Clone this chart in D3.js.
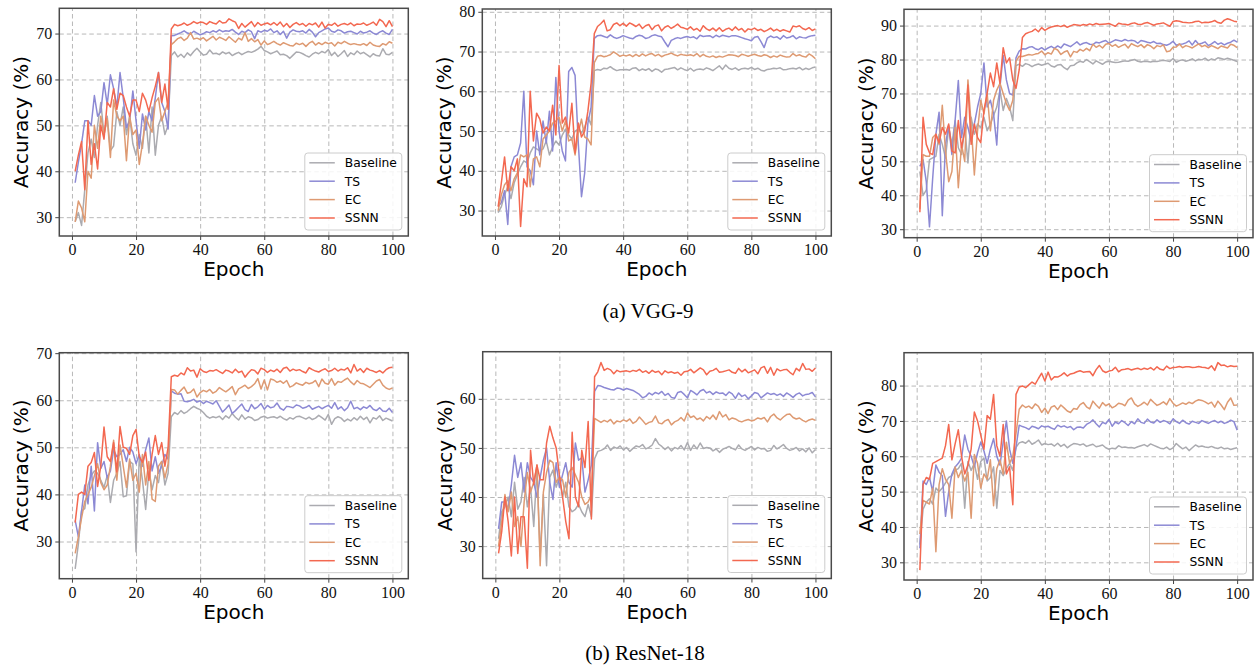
<!DOCTYPE html>
<html>
<head>
<meta charset="utf-8">
<script src="https://cdn.jsdelivr.net/npm/d3@7"></script>
<style>
body { margin: 0; background: #fff; }
</style>
</head>
<body>
<script>
var epochs = d3.range(1, 101);
var xTicks = [0, 20, 40, 60, 80, 100];
var seriesNames = ['Baseline', 'TS', 'EC', 'SSNN'];
var seriesColors = ['#ababb0', '#8c89d4', '#de9a72', '#f36850'];
var captions = ['(a) VGG-9', '(b) ResNet-18'];

// VGG-9 row
var vgg1Baseline = [29, 31, 28.2, 36, 44, 47, 43, 50, 55, 48, 52, 44.5, 45.5, 53, 50, 54, 48, 52, 46, 43.5, 48, 45, 52, 44, 54, 43.5, 50, 52, 48, 50,
	65.2, 66, 64.9, 65.5, 64.8, 65.8, 65.2, 66.1, 66.8, 66, 65.3, 65.5, 66.4, 65.6, 65.7, 65.4, 66, 65.6, 65.9, 65.2,
	65.6, 65.9, 65.4, 65.8, 66.1, 65.9, 66.2, 66.6, 67.2, 66.3, 66, 65.6, 65.9, 66.2, 65.4, 65.5, 65.2, 64.6, 65.3, 66,
	65.9, 65.6, 65.2, 64.9, 65.5, 65.9, 65.6, 66.1, 65.8, 66.5, 65.2, 65.9, 65, 65.6, 66.3, 65, 65.8, 65.4, 66.2, 65.6,
	65.9, 65.4, 64.9, 65.6, 65.2, 65.1, 66.7, 65.5, 65.4, 65.9];
var vgg1TS = [37.5, 42, 46, 51, 51, 50, 56.5, 52, 53, 59.3, 54.5, 61, 58, 54, 61.5, 56, 49.5, 51, 57.5, 51, 45, 52.5, 49, 53, 51, 56, 61.5, 55, 53, 49.2,
	69.5, 69.6, 69.9, 70.2, 70.6, 70.1, 69.9, 70.5, 70.1, 69.7, 70, 70.4, 70.2, 70.6, 70.3, 70.8, 70.4, 70.6, 70.5, 70.9,
	70.3, 69.8, 70.5, 70.2, 70.8, 70.4, 68.9, 70.6, 70.3, 70.7, 70.5, 71, 70.2, 70.6, 69.8, 70.5, 69, 70.3, 70.8, 70.5,
	70.4, 70.6, 70.1, 70.9, 70.3, 69.3, 70.2, 70.6, 71, 71.2, 70.5, 70.3, 70.8, 70.6, 70.1, 70.4, 70.5, 70.2, 69.9, 70.5,
	70.1, 70.3, 70.6, 70.1, 69.8, 70.3, 70.6, 70.1, 69.8, 70.9];
var vgg1EC = [29, 33.5, 32, 29, 40, 38.5, 50, 45, 52, 48, 51.5, 43, 55.5, 52, 51, 52, 42.3, 52, 48, 49, 41.5, 46, 52, 50, 48.5, 55, 56, 51, 53, 55,
	67.6, 68.2, 68.9, 69.2, 68.5, 69, 70.2, 68.8, 69, 68.7, 69.1, 68.4, 68.9, 69.4, 68.6, 69.2, 68.9, 68.5, 69.3, 68.7,
	68.1, 69, 68.6, 70.2, 68.3, 68.9, 68.2, 68.7, 67.5, 68.4, 67.6, 67.9, 68.3, 67.8, 67.5, 68, 67.7, 67.4, 67.3, 67.9,
	67.6, 67.9, 67.2, 67.9, 68.3, 67.5, 68, 67.6, 68.1, 67.8, 68, 67.3, 68.1, 67.8, 68.3, 67.9, 67.6, 67.8, 67.6, 67.5,
	67.8, 67.4, 68.1, 67.5, 67.3, 67.2, 67.8, 67.5, 68.2, 67.9];
var vgg1SSNN = [40, 43.5, 46.5, 36, 51, 41.5, 46, 40.5, 50, 47, 55, 54, 58, 53.5, 57, 56.5, 54, 52, 55.5, 55.5, 53, 57, 55.5, 53, 56, 58.5, 61.5, 55, 59, 53.5,
	71, 72, 71.7, 71.9, 72.3, 71.8, 72.1, 72.6, 72.2, 72.5, 72.4, 72, 72.6, 72.3, 72.1, 72.8, 72.3, 72.4, 73.2, 72.8,
	72.5, 71.1, 72.2, 71.4, 72, 72.6, 71.5, 72.4, 71.8, 72.1, 72.3, 71.9, 72.4, 71.8, 72.5, 71.5, 72.2, 71.3, 72, 72.4,
	71.9, 72.2, 71.6, 72.2, 71.9, 72.3, 71.4, 72.5, 71.2, 72, 71.8, 72.3, 71.6, 72, 72.2, 71.9, 72.3, 71.7, 72.1, 72,
	72.3, 71.8, 72.1, 72.5, 71.8, 73.1, 72.6, 71.5, 72.8, 71.5];

var vgg2Baseline = [29.5, 31, 34, 36, 33, 37, 39, 41, 42.5, 42, 44.5, 46, 45.5, 45, 45.5, 47.5, 44, 46, 47.5, 46.5, 49, 50.5, 49, 48, 50, 50.5, 49.5, 51, 53.5, 51.5,
	65.2, 65.5, 65.3, 65.8, 65.7, 66.2, 65.6, 65.2, 65.4, 65.4, 65.5, 65.3, 65.8, 65.9, 65.2, 65.6, 65.3, 65.7, 65, 65.6,
	65.4, 64.8, 65.5, 65.6, 65.8, 66, 65.4, 65.9, 65.5, 65.2, 65.8, 65.1, 65.5, 65.6, 65.4, 65.9, 65.6, 65.2, 65.8, 66.4,
	65.5, 66.6, 65.8, 65.5, 65.9, 65.3, 65.7, 65.8, 65.6, 66, 65.5, 65.8, 65.3, 65.1, 65.5, 65.6, 65.8, 65.7, 65.9, 65.4,
	65.5, 65.7, 65.8, 65.6, 66, 65.4, 65.8, 65.5, 65.9, 66.1];
var vgg2TS = [31, 32, 35, 26.5, 41, 43.5, 44, 47, 60, 41, 40, 36.5, 50, 44, 52.5, 47, 55, 45, 63.5, 50, 45, 42.5, 65, 66, 64, 47, 33.5, 39.5, 52, 56,
	73.3, 74, 74.1, 73.8, 73.5, 74.2, 73.6, 73.3, 73.6, 74, 73.7, 73.4, 73.2, 73.8, 74.1, 73.9, 73.3, 73.5, 74, 74.2,
	73.9, 73.7, 72.4, 71.2, 72.8, 73.2, 73.5, 73.3, 73.6, 73.8, 73.5, 73.7, 73.2, 74.1, 73.8, 73.9, 74, 73.5, 74.1, 73.7,
	74.1, 73.9, 73.7, 74, 74, 73.8, 73.5, 73.2, 73, 72.7, 73.6, 73.8, 72.5, 71, 73.4, 73.9, 73.5, 73.7, 73.1, 74,
	73.4, 73.6, 74, 73.2, 73.7, 73.5, 73.4, 73.8, 74, 74.1];
var vgg2EC = [30, 34, 36.5, 37.5, 35, 38, 39.5, 44, 43.5, 44, 36, 43, 43.5, 41, 48, 49, 50, 52, 52.5, 53.5, 50, 52.5, 47.5, 48, 44, 49.5, 53, 48.5, 48, 46.5,
	67.2, 68.8, 69, 68.7, 68.9, 69.2, 69.9, 69.4, 68.8, 69.1, 68.9, 69.2, 68.7, 69.3, 68.8, 69.4, 68.9, 69.3, 69.5, 68.9,
	69.3, 68.7, 69.1, 69.3, 69.6, 69.2, 68.9, 69.3, 69.1, 69, 69.2, 68.9, 69.5, 68.7, 69.3, 68.8, 68.6, 68.9, 68.5, 68.8,
	68.6, 68.9, 69.2, 69.1, 69, 68.7, 69.3, 69.1, 68.8, 69.1, 69.3, 69, 68.8, 69.2, 69, 68.5, 68.9, 68.6, 69.1, 68.8,
	68.6, 68.7, 69.5, 68.9, 69.2, 68.8, 68.6, 69.4, 68.9, 68.2];
var vgg2SSNN = [31, 37, 43.5, 35, 41, 40, 43, 26, 38, 36, 60, 47.5, 54.5, 53, 49.5, 51, 50, 56.5, 49, 66.5, 52, 53.5, 49.5, 57, 44.5, 52, 48.5, 50, 55, 62,
	74.5, 76.3, 77, 77.9, 75.2, 75.5, 76.8, 77.2, 76.5, 77.1, 76.4, 77.2, 76.8, 76.3, 76.9, 75.8, 76.5, 76.8, 75.5, 76.4,
	76.7, 75.2, 76.1, 76.5, 75.8, 76.3, 76.9, 76.1, 75.9, 75.6, 76.2, 75.4, 75.8, 75.1, 76.5, 75.7, 75.3, 75.9, 75.2, 76,
	75.1, 75.6, 75.9, 75.3, 76.2, 75.4, 75.8, 74.9, 75.7, 75.5, 75.9, 75.3, 75.6, 75, 75.4, 75.9, 75.2, 75.6, 75.1, 75.5,
	75.2, 74.9, 76.4, 76.2, 76.5, 75.8, 75.5, 76, 75.3, 75.7];

var vgg3Baseline = [47, 40, 41.5, 50.5, 51, 51.5, 58, 55, 51, 60, 55, 62, 54, 52, 60, 49.5, 63, 58, 61, 60, 63, 59, 61, 63.5, 66, 71, 65, 68.5, 66, 62,
	78.2, 78.6, 78, 78.8, 78.5, 77.9, 78.4, 78.7, 78.3, 78.6, 78.9, 78.1, 77.8, 78.4, 78.5, 77.6, 77, 78.2, 78.3, 79,
	79.5, 79.2, 80, 79.4, 78.7, 79.6, 79.1, 78.6, 79.3, 79.5, 79.3, 79.1, 79.2, 79.4, 79.6, 79.5, 79.8, 80, 79.5, 79.3,
	79.5, 79.4, 79.3, 79.5, 79.4, 79.6, 79.8, 79.6, 79.4, 80.3, 79.2, 79.7, 79.9, 79.5, 79.8, 80.2, 79.6, 80.1, 79.9, 80.4,
	79.7, 80.2, 79.9, 80.5, 80.3, 80, 80.4, 80.1, 79.8, 79.4];
var vgg3TS = [48.5, 50.5, 44, 30.7, 45, 58, 64.5, 34, 55, 60.5, 52, 62, 73.8, 57, 63, 60, 56, 61, 66, 70, 79, 66, 68, 64, 54.8, 72, 81.2, 74, 70, 69.5,
	80.5, 82.5, 83.2, 83.1, 83.6, 83.8, 83.2, 82.9, 83.5, 82.8, 83.4, 83.9, 83.3, 84, 83.4, 84.6, 84.2, 83.8, 84.5, 85.2,
	84.3, 84.8, 85, 84.5, 84.4, 85.1, 84.9, 85.3, 85.6, 84.8, 85.3, 85.8, 85.6, 85.4, 85.9, 85.5, 85.7, 85.5, 84.8, 85.6,
	85.4, 85.1, 84.9, 85.3, 84.7, 84.8, 84.4, 84.2, 84.6, 85.4, 84.2, 84.5, 84.6, 84.9, 85.5, 84.3, 85.6, 84.5, 84.8, 85.2,
	84.1, 84.6, 85.3, 84.5, 84.9, 84.3, 84.8, 85.1, 85.7, 85.1];
var vgg3EC = [36, 52, 51.5, 51.5, 57, 58, 55, 66.5, 53, 44, 47, 60, 42.2, 55, 50, 74, 61, 46, 59, 68, 64, 70, 59, 68, 71, 73, 70, 67, 65, 68,
	79.5, 81, 80.9, 81.2, 81.5, 81.3, 81.6, 81.8, 82.5, 81.4, 82, 81.6, 83.3, 82.8, 81.5, 82.2, 82.6, 80.8, 82.4, 82.1,
	83, 82.5, 83.3, 82.6, 84.5, 83.6, 84.2, 83.4, 84.5, 84.7, 83.9, 84.4, 83.6, 84.1, 84.5, 83.4, 84.7, 84.2, 83.8, 84.4,
	83.5, 84.4, 84, 83.2, 84.1, 83.8, 84.3, 82.3, 82.5, 83.6, 83.7, 84.6, 83.5, 84.1, 83.8, 83.4, 84, 84.6, 83.8, 84.2,
	83.5, 84.1, 83.7, 83.2, 84, 83.7, 83.4, 84.5, 84.2, 83.5];
var vgg3SSNN = [35, 63, 55, 52.5, 52, 58, 55.5, 60, 58, 61, 53, 52.5, 62, 54, 59, 72.5, 55, 61, 57, 55.5, 65, 70, 76, 72, 79, 73, 83.5, 79, 80.5, 74,
	71.5, 77, 86.5, 87.6, 88, 88.3, 89, 88.2, 89.4, 88.6, 89.2, 89.6, 89.8, 90, 89.7, 90.1, 89.5, 89.9, 90.3, 90.2,
	90, 90.3, 90.1, 90.5, 90.2, 90.6, 90.3, 90.4, 90.5, 90.6, 90.2, 89.8, 90.7, 90.5, 90.4, 90.2, 90.6, 90.8, 90.4, 90.3,
	90.7, 90.9, 90.5, 90.1, 90.5, 90.6, 90.8, 90.3, 89.8, 91.2, 91.4, 91.3, 91, 90.9, 90.8, 90.9, 91.2, 91.3, 90.8, 91,
	90.9, 91.1, 91.5, 90.9, 90.7, 91.6, 92, 91.7, 91.3, 91.1];

// ResNet-18 row
var res1Baseline = [24.2, 29.5, 36.5, 37, 42, 44, 45, 44.5, 43, 41.5, 44, 38.3, 43, 44.5, 47, 39.5, 39.7, 47, 46.5, 27.8, 48, 43, 36.8, 45, 41, 44, 42.5, 47, 42, 44.5,
	56.5, 57.4, 57, 57.8, 57.2, 57.6, 58.2, 58.7, 58.3, 58, 57.4, 56.6, 56.2, 56.5, 56.3, 56.6, 55.9, 56.7, 56.2, 57.2,
	56.4, 55.8, 56.9, 56, 56.5, 56.3, 55.7, 55.9, 56.4, 56.6, 56.2, 56.4, 56.5, 56.2, 56.6, 56.1, 55.8, 56.3, 56, 56.5,
	56.6, 56.3, 56, 56.4, 55.9, 56.2, 56.8, 56.3, 55.8, 57, 54.9, 56.1, 56.5, 56.2, 55.5, 56, 55.6, 56.3, 55.8, 56.6,
	55.9, 56.4, 55.2, 56.3, 56, 56.7, 55.7, 56.2, 55.9, 55.6];
var res1TS = [34.5, 31, 36.5, 42, 38, 46, 36.5, 51, 45.5, 47, 43.5, 45, 49.5, 48, 48.5, 49.5, 47, 50, 49, 46.5, 48.5, 46, 49.5, 52, 45, 48, 44.5, 46, 48.5, 47.5,
	62, 61.5, 61.3, 61.4, 59.8, 59.7, 59.9, 60.2, 59.6, 59.9, 59.3, 59.8, 59.5, 59.2, 59.9, 58.7, 57.5, 58.2, 59, 57.2,
	57.8, 58.5, 59.2, 58, 57.6, 59.1, 58.2, 58.6, 59.3, 58.1, 58.9, 58.4, 58.6, 59.4, 58.3, 57.9, 58.7, 58.6, 58.4, 59,
	58.8, 58.3, 58.5, 58.9, 58.1, 58.4, 58.7, 58.2, 58.6, 58.9, 58.3, 59.5, 58.1, 58.6, 57.8, 58.4, 59.8, 58.2, 58.5, 58,
	58.6, 58.3, 58.9, 58.1, 57.8, 58.4, 57.7, 57.6, 58.3, 57.4];
var res1EC = [27.5, 31, 35, 38.5, 40, 41.5, 44, 46.5, 42.5, 41, 42, 46, 51.5, 43, 50.5, 46, 41.5, 47.5, 43, 44.5, 40.5, 48.5, 42, 47, 39, 38.5, 46, 47, 43.5, 46.5,
	62.3, 62.2, 61.3, 62.1, 62.8, 61.5, 61.7, 62.4, 60.7, 61.6, 62.1, 61.8, 62.3, 61.5, 61.9, 62.7, 62.2, 61.8, 62.3, 62.9,
	61.2, 62.4, 62.8, 63.2, 62.5, 62.9, 63.5, 64.6, 62.4, 64.3, 62.2, 64.5, 64.3, 63.8, 64.1, 63.6, 64.2, 62.8, 63.1, 63.7,
	63.4, 63.2, 63.8, 63.5, 63.7, 64.2, 62.9, 64.5, 63.6, 63.4, 64.6, 63.2, 64, 63.8, 64.3, 64.7, 63.9, 63.3, 64.2, 63.6,
	63.5, 63.1, 62.7, 63.4, 64.1, 64.4, 63.2, 62.6, 62.3, 62.6];
var res1SSNN = [34, 40, 40.5, 40, 46, 46.8, 48.9, 41.7, 46, 54.3, 48, 47, 51, 44.8, 54.4, 50, 49.8, 48.5, 52.5, 53.8, 48, 46.8, 49, 43, 48.5, 52.5, 48.5, 51, 46, 50,
	65, 65.3, 65.1, 65.8, 65.4, 66.9, 66.2, 66.4, 64.9, 66.7, 66.1, 65.9, 66.3, 66.2, 66.5, 66.1, 65.7, 66.4, 66.2, 65.8,
	66.6, 65.9, 66.2, 64.9, 65.8, 66.5, 66.3, 65.6, 66.8, 66.5, 65.9, 66.4, 66.1, 66.6, 65.9, 66.8, 67, 66.2, 66.6, 66.3,
	66.5, 66.1, 65.8, 66.9, 66.5, 66.2, 66, 66.4, 66.7, 66.1, 66.3, 66.8, 66.2, 66.6, 66.4, 66.9, 65.8, 67.6, 66.2, 66.7,
	65.9, 66.8, 66.4, 66.2, 65.9, 66.3, 65.8, 66.5, 66.9, 67];

var res2Baseline = [31.5, 37, 38, 40, 36, 43, 37.5, 39, 44, 38, 42, 34, 46, 28, 40.5, 26, 44, 45.5, 42, 44, 40, 43, 38, 37, 37.5, 38.5, 37, 36, 38.5, 36,
	47.8, 49.3, 49.5, 49.8, 50.6, 49.5, 50.2, 49.9, 50.4, 49.6, 50.1, 49.3, 49.9, 50.4, 50.2, 50.7, 49.8, 50.1, 50.6, 51.9,
	50.8, 50.3, 49.7, 50.2, 49.4, 50.1, 49.8, 50.5, 49.6, 51.1, 49.5, 50.6, 49.8, 51, 49.9, 50.1, 50, 49.4, 49.8, 49.1,
	49.7, 50, 50.3, 49.9, 49.6, 50.6, 49.8, 49.5, 49.9, 50.3, 49.6, 50.1, 49.8, 49.9, 49.3, 49.5, 50.5, 49.8, 50.2, 50.7,
	49.9, 49.5, 49.7, 50.1, 49.4, 49.8, 49.2, 50, 49, 49.7];
var res2TS = [33.5, 39, 39, 37.5, 42.5, 48.5, 44, 47, 41, 47, 44, 43, 40, 44, 47.5, 50, 43, 39.5, 47, 42, 44.5, 47, 43, 42, 51, 47.5, 48, 41, 43.5, 46.5,
	61.5, 62.7, 62.6, 62.3, 62.1, 61.9, 61.8, 62.2, 62.1, 61.8, 62.1, 61.9, 61.7, 61.3, 60.9, 60.2, 60.5, 61.2, 60.8, 61.3,
	61, 61.5, 60.7, 61.1, 60.3, 60.1, 61.3, 61.5, 60.9, 60.2, 61.7, 61.3, 60.8, 61.6, 61.9, 61.2, 61.5, 60.9, 61.4, 61.1,
	61.2, 60.7, 61.4, 61, 60.1, 61.2, 60.5, 60.8, 60, 60.6, 61.3, 61.1, 60.2, 60.7, 61.2, 60.9, 61.1, 60.7, 61, 60.5,
	61.2, 60.8, 60.3, 60.9, 61.2, 60.6, 60.9, 61, 61.3, 60.4];
var res2EC = [30, 35, 40.5, 37, 41, 34, 36, 30, 39, 45, 41, 43, 46.5, 26, 41, 45, 47.5, 47, 43, 44, 43.5, 40, 45, 46, 44.5, 43, 40, 38.5, 39, 40.5,
	56, 55.6, 55.2, 55.6, 55.3, 55.8, 54.9, 55.5, 55.3, 55.7, 55.4, 55.9, 55, 55.4, 56.3, 55.6, 54.8, 55.2, 55.4, 56.5,
	55.1, 54.9, 55.5, 55.8, 54.7, 55.3, 55.6, 56.2, 55.5, 57.1, 56.2, 56.5, 55.8, 56.1, 55.5, 56.4, 55.9, 56.7, 55.8, 57.4,
	56.3, 56.8, 55.7, 56.1, 55.9, 55.5, 55.3, 55.6, 55.8, 55.5, 55.7, 56.1, 55.9, 56.2, 55.3, 56.4, 56.9, 56.1, 55.7, 56.3,
	56.8, 56.9, 56.2, 55.9, 56.1, 55.6, 55.3, 55.7, 55.9, 55.6];
var res2SSNN = [28.5, 33, 40, 35, 28, 40, 28.5, 36, 36, 25.5, 49.5, 42.5, 46.5, 43.5, 43.5, 51, 54.4, 52, 50, 44.5, 40, 35, 31.5, 53.2, 40, 38, 49.5, 46, 55.4, 35.5,
	64.5, 65.5, 67.4, 65.8, 66.2, 65.9, 65.1, 65.8, 65.5, 65.6, 65.7, 65.5, 65.8, 65.6, 66, 65.4, 65.7, 65.2, 65.8, 65.4,
	65.6, 64.9, 65.7, 65.3, 65.5, 65.2, 65.4, 64.8, 65.5, 65.6, 66, 65.3, 65.8, 66.3, 65.9, 64.9, 65.6, 65.8, 66.2, 65.4,
	65.5, 65.7, 65.9, 65.4, 65.2, 66.2, 65.5, 66, 65.3, 65.6, 65.9, 65.1, 66.3, 66.6, 65.2, 66.4, 64.8, 66.1, 65.7, 65.9,
	66, 65.4, 64.9, 66.2, 65.7, 67.2, 66, 66.1, 65.6, 66.3];

var res3Baseline = [35, 45, 47, 48, 46.5, 51, 50, 51, 52.5, 54, 54.5, 56, 56.5, 58, 45.3, 58.5, 56, 58, 53.5, 58.5, 59.5, 53, 54, 57, 45.3, 56, 54.5, 56.5, 58, 56,
	62.5, 63.8, 64.1, 63.7, 64.5, 63.4, 63.9, 64.6, 63.2, 63.6, 63.3, 63.5, 62.9, 63.7, 62.8, 63.4, 62.4, 63.1, 63.6, 63.5,
	63.2, 63.5, 62.8, 63.1, 63.4, 62.7, 62.9, 63.2, 62.4, 62, 62.3, 62.1, 63, 62.5, 62.6, 62.4, 62.5, 62.3, 62.7, 63,
	63.3, 62.8, 63.5, 63.1, 62.7, 62.3, 62.1, 62.6, 61.9, 62.4, 63.6, 62.8, 62.1, 62.6, 61.6, 62.4, 63.2, 62.7, 62.9, 62.6,
	62.5, 62.8, 62.4, 62.2, 62.6, 62.1, 62.3, 61.9, 62.2, 62.4];
var res3TS = [34, 53, 52, 54, 50, 57.5, 55.5, 54.5, 43, 50, 55, 57, 58, 59.5, 66, 62, 60, 57, 61, 64, 61.5, 58, 62, 65, 60, 57.5, 64, 70, 62, 58,
	62.5, 68.8, 68.4, 68.1, 67.6, 68.5, 68.2, 67.8, 68.6, 68.3, 68.5, 68, 67.6, 68.8, 68.3, 68.6, 68.1, 68.4, 67.5, 68.2,
	68.3, 68, 69, 69.5, 70.3, 69.2, 68.3, 69.6, 69.2, 70.4, 68.5, 69.7, 69.2, 70.1, 69.5, 68.7, 69.8, 69.2, 70.6, 69.6,
	69.3, 70.5, 69.7, 69.4, 70.3, 69.6, 70.1, 69.8, 69.2, 70.6, 69.8, 69.3, 70.2, 69.5, 69.1, 69.9, 69.6, 69.3, 70.1, 69.7,
	69.3, 69.8, 70.1, 69.5, 69.9, 69.3, 69.6, 70.2, 69.8, 67.4];
var res3EC = [38, 47.5, 47, 46.5, 51, 33, 52, 56.5, 53.5, 52, 42.5, 57, 54, 56, 53, 55.5, 42.5, 60.5, 58, 51, 55, 53.5, 59, 46, 56.5, 59, 55, 64, 58, 60,
	66.5, 73.3, 74.5, 73.8, 74.2, 73.5, 74.8, 74.1, 72.4, 73.6, 72.1, 73.9, 74.3, 73.2, 74.5, 73.7, 72.8, 72.4, 73.5, 73.3,
	74.6, 75.2, 74, 73.4, 75.6, 74.5, 73.6, 75.2, 74.3, 74.8, 73.7, 74.2, 75, 74.8, 74.3, 75.9, 76.5, 74.8, 74.1, 74.6,
	75.3, 74.5, 76.1, 75.2, 74.4, 74.8, 75.4, 74.6, 76.3, 75, 74.2, 74.6, 75.1, 74.7, 75.3, 74.9, 75.6, 76, 75.8, 75.4,
	74.8, 75.3, 73.9, 75.6, 74.5, 73.2, 75.3, 76.5, 74.4, 74.5];
var res3SSNN = [27.8, 52, 54, 53.5, 58, 58.5, 59, 59.5, 63, 69, 59, 63.5, 67.5, 60, 55, 57.5, 62, 72.5, 70, 66, 62, 71.5, 70.5, 77.5, 63, 60, 69, 55, 57, 46.3,
	77.5, 79.6, 79.9, 79.4, 80.2, 81, 80.4, 82, 83.5, 81.3, 83.8, 81.6, 82.5, 82.4, 82.9, 83.6, 82.7, 83.3, 83.5, 83.9,
	84.2, 83.8, 83.9, 84, 82.8, 84.5, 85.7, 84.2, 83.7, 84.1, 84.3, 85.2, 83.9, 84.5, 84.6, 84.8, 84.4, 84.7, 84.9, 84.5,
	84.9, 84.6, 85.1, 84.4, 85.3, 84.6, 84.4, 85.5, 84.8, 85.1, 85.2, 85.4, 85.1, 85.3, 85.3, 85.1, 85.2, 85.4, 85.2, 85.1,
	84.8, 85.6, 84.3, 86.5, 85.7, 85.8, 85.3, 85.6, 85.4, 85.5];

var yTicks1 = [30, 40, 50, 60, 70];
var yTicks2 = [30, 40, 50, 60, 70, 80];
var yTicks3 = [30, 40, 50, 60, 70, 80, 90];
var yTicks4 = [30, 40, 50, 60, 70];
var yTicks5 = [30, 40, 50, 60];
var yTicks6 = [30, 40, 50, 60, 70, 80];

// box = [left, top, right, bottom] of each plot area
var panels = [
	{series: [vgg1Baseline, vgg1TS, vgg1EC, vgg1SSNN], ticks: yTicks1, domain: [25.9, 75.5], box: [59.3, 8.3, 408.3, 236]},
	{series: [vgg2Baseline, vgg2TS, vgg2EC, vgg2SSNN], ticks: yTicks2, domain: [23.6, 80.7], box: [482.3, 9, 831.3, 236]},
	{series: [vgg3Baseline, vgg3TS, vgg3EC, vgg3SSNN], ticks: yTicks3, domain: [27.5, 94.8], box: [904, 9.3, 1253, 237.7]},
	{series: [res1Baseline, res1TS, res1EC, res1SSNN], ticks: yTicks4, domain: [22.1, 70.1], box: [59.3, 352.7, 408.3, 578.7]},
	{series: [res2Baseline, res2TS, res2EC, res2SSNN], ticks: yTicks5, domain: [23.4, 69.6], box: [482.7, 351.7, 831.3, 578.5]},
	{series: [res3Baseline, res3TS, res3EC, res3SSNN], ticks: yTicks6, domain: [25, 89.3], box: [904, 352.7, 1253, 580]}
];

var svg = d3.select('body')
		.append('svg')
		.attr('width', 1256)
		.attr('height', 666);

panels.forEach(function(p, k) {
	var b = p.box;
	var x = d3.scaleLinear()
		.domain([-3.95, 104.95])
		.range([b[0], b[2]]);
	var y = d3.scaleLinear()
		.domain(p.domain)
		.range([b[3], b[1]]);

	var g = svg.append('g');

	g.append('clipPath')
		.attr('id', 'clip' + k)
		.append('rect')
		.attr('x', b[0]).attr('y', b[1])
		.attr('width', b[2] - b[0]).attr('height', b[3] - b[1]);

	// grid
	var gx = g.append('g')
		.attr('transform', 'translate(0,' + b[3] + ')')
		.call(d3.axisBottom(x).tickValues(xTicks).tickSize(-(b[3] - b[1])).tickFormat(''));
	var gy = g.append('g')
		.attr('transform', 'translate(' + b[0] + ',0)')
		.call(d3.axisLeft(y).tickValues(p.ticks).tickSize(-(b[2] - b[0])).tickFormat(''));
	[gx, gy].forEach(function(a) {
		a.select('.domain').remove();
		a.selectAll('line')
			.attr('stroke', '#b8b8b8')
			.attr('stroke-width', 1)
			.attr('stroke-dasharray', '4.5,3');
	});

	var line = d3.line()
		.x(function(d, i) { return x(epochs[i]); })
		.y(function(d) { return y(d); });

	g.append('g')
		.attr('clip-path', 'url(#clip' + k + ')')
		.selectAll('path')
		.data(p.series)
		.enter().append('path')
		.attr('d', line)
		.attr('fill', 'none')
		.attr('stroke', function(d, i) { return seriesColors[i]; })
		.attr('stroke-width', 1.5)
		.attr('stroke-linejoin', 'round');

	// axes
	var ax = g.append('g')
		.attr('transform', 'translate(0,' + b[3] + ')')
		.call(d3.axisBottom(x).tickValues(xTicks).tickSize(4).tickPadding(4));
	var ay = g.append('g')
		.attr('transform', 'translate(' + b[0] + ',0)')
		.call(d3.axisLeft(y).tickValues(p.ticks).tickSize(4).tickPadding(3));
	[ax, ay].forEach(function(a) {
		a.select('.domain').remove();
		a.selectAll('line').attr('stroke', '#444').attr('stroke-width', 1);
		a.selectAll('text')
			.attr('fill', '#111')
			.style('font-family', '"Liberation Serif", "Times New Roman", serif')
			.style('font-size', '16px');
	});

	g.append('rect')
		.attr('x', b[0]).attr('y', b[1])
		.attr('width', b[2] - b[0]).attr('height', b[3] - b[1])
		.attr('fill', 'none')
		.attr('stroke', '#4a4a4a')
		.attr('stroke-width', 1.5);

	g.append('text')
		.attr('x', (b[0] + b[2]) / 2)
		.attr('y', b[3] + 40)
		.attr('text-anchor', 'middle')
		.style('font-family', '"DejaVu Sans", sans-serif')
		.style('font-size', '20px')
		.text('Epoch');

	g.append('text')
		.attr('transform', 'translate(' + (b[0] - 31) + ',' + ((b[1] + b[3]) / 2) + ') rotate(-90)')
		.attr('text-anchor', 'middle')
		.style('font-family', '"DejaVu Sans", sans-serif')
		.style('font-size', '20px')
		.text('Accuracy (%)');

	// legend, lower right
	var lw = 97, lh = 77;
	var leg = g.append('g')
		.attr('transform', 'translate(' + (b[2] - 6.5 - lw) + ',' + (b[3] - 6 - lh) + ')');
	leg.append('rect')
		.attr('width', lw).attr('height', lh)
		.attr('rx', 3)
		.attr('fill', 'rgba(255,255,255,0.85)')
		.attr('stroke', '#cccccc')
		.attr('stroke-width', 1);
	var items = leg.selectAll('.item')
		.data(seriesNames)
		.enter().append('g')
		.attr('transform', function(d, i) { return 'translate(0,' + (9.8 + i * 18.4) + ')'; });
	items.append('line')
		.attr('x1', 4.5).attr('x2', 30)
		.attr('stroke', function(d, i) { return seriesColors[i]; })
		.attr('stroke-width', 1.5);
	items.append('text')
		.attr('x', 40)
		.attr('dy', '0.36em')
		.style('font-family', '"DejaVu Sans", sans-serif')
		.style('font-size', '12.3px')
		.text(function(d) { return d; });
});

svg.selectAll('.caption')
	.data(captions)
	.enter().append('text')
	.attr('x', function(d, i) { return i ? 645 : 648; })
	.attr('y', function(d, i) { return i ? 660 : 318; })
	.attr('text-anchor', 'middle')
	.style('font-family', '"Liberation Serif", "Times New Roman", serif')
	.style('font-size', '21px')
	.text(function(d) { return d; });
</script>
</body>
</html>
